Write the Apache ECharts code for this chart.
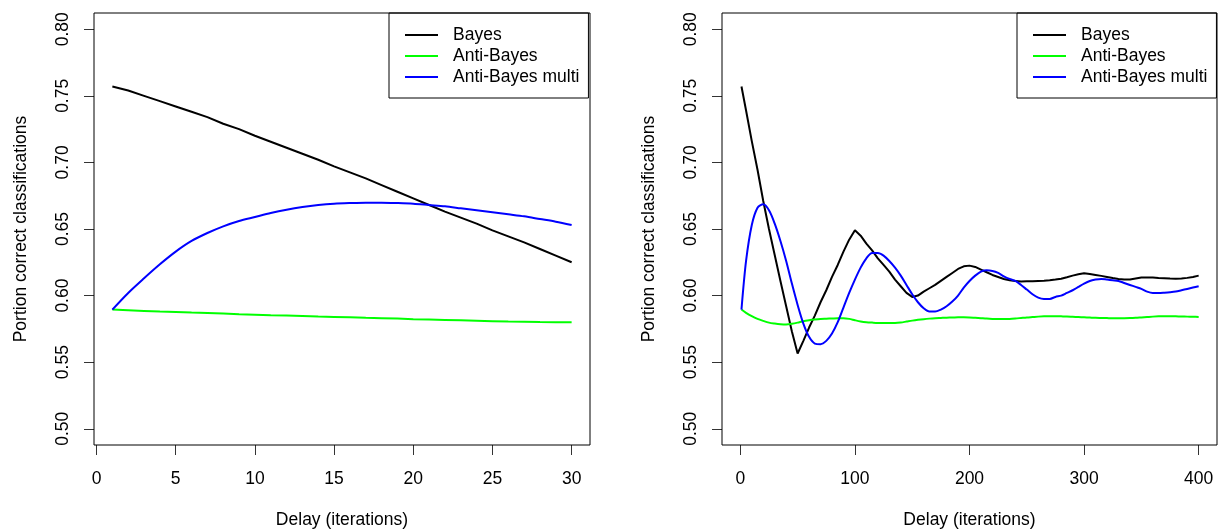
<!DOCTYPE html>
<html>
<head>
<meta charset="utf-8">
<script src="https://cdn.jsdelivr.net/npm/echarts@6/dist/echarts.min.js"></script>
<style>
html,body{margin:0;padding:0;background:#fff;}
#chart{width:1219px;height:531px;}
</style>
</head>
<body>
<div id="chart"></div>
<script>
// ---- Left panel data (delay 1..30) ----
const leftX = [1,2,3,4,5,6,7,8,9,10,11,12,13,14,15,16,17,18,19,20,21,22,23,24,25,26,27,28,29,30];
const leftBayes = [0.757,0.754,0.750,0.746,0.742,0.738,0.734,0.729,0.725,0.720,0.7155,0.711,0.7065,0.702,0.697,0.6925,0.688,0.683,0.678,0.673,0.668,0.663,0.6585,0.654,0.649,0.6445,0.640,0.635,0.630,0.625];
const leftAnti = [0.5895,0.589,0.5885,0.588,0.5877,0.5873,0.587,0.5865,0.586,0.5857,0.5853,0.585,0.5847,0.5843,0.584,0.5837,0.5833,0.583,0.5827,0.5823,0.582,0.5817,0.5814,0.5811,0.5808,0.5805,0.5803,0.5801,0.58,0.5799];
const leftMulti = [0.5895,0.602,0.613,0.6235,0.633,0.641,0.647,0.652,0.656,0.659,0.662,0.6645,0.6665,0.668,0.669,0.6695,0.6698,0.6698,0.6695,0.669,0.668,0.667,0.6655,0.664,0.6625,0.661,0.6595,0.6575,0.6555,0.653];

// ---- Right panel data (delay 1..400) ----
const rightX = [1,5,10,15,20,25,30,35,40,45,50,55,60,65,70,75,80,85,90,95,100,105,110,115,120,125,130,135,140,145,150,155,160,165,170,175,180,185,190,195,200,205,210,215,220,225,230,235,240,245,250,255,260,265,270,275,280,285,290,295,300,305,310,315,320,325,330,335,340,345,350,355,360,365,370,375,380,385,390,395,400];
const rightBayes = [0.757,0.739,0.716,0.6945,0.671,0.650,0.6305,0.611,0.592,0.573,0.5565,0.566,0.576,0.585,0.595,0.604,0.614,0.623,0.633,0.642,0.649,0.645,0.639,0.634,0.628,0.623,0.618,0.612,0.607,0.602,0.599,0.600,0.603,0.6055,0.608,0.611,0.614,0.617,0.620,0.622,0.6225,0.6215,0.6195,0.6175,0.6155,0.614,0.6125,0.6115,0.611,0.6105,0.6107,0.6108,0.611,0.6112,0.6115,0.612,0.6127,0.6138,0.615,0.616,0.6167,0.6162,0.6155,0.6148,0.614,0.6132,0.6125,0.612,0.612,0.6128,0.6135,0.6136,0.6135,0.6132,0.613,0.6128,0.6127,0.6129,0.6133,0.614,0.615];
const rightAnti = [0.5895,0.587,0.5845,0.5825,0.581,0.5797,0.579,0.5785,0.5783,0.5788,0.5797,0.5808,0.5815,0.582,0.5824,0.5826,0.5828,0.583,0.583,0.5825,0.5815,0.5806,0.58,0.5797,0.5795,0.5795,0.5795,0.5795,0.5798,0.5805,0.5812,0.5818,0.5823,0.5827,0.583,0.5832,0.5834,0.5835,0.5837,0.5837,0.5836,0.5833,0.583,0.5827,0.5825,0.5824,0.5824,0.5825,0.5828,0.5832,0.5836,0.5839,0.5842,0.5844,0.5845,0.5845,0.5844,0.5843,0.5841,0.5839,0.5837,0.5835,0.5833,0.5832,0.5831,0.583,0.583,0.583,0.5831,0.5833,0.5836,0.5839,0.5842,0.5844,0.5845,0.5845,0.5844,0.5843,0.5842,0.5841,0.584];
const rightMulti = [0.5895,0.626,0.653,0.666,0.6685,0.664,0.654,0.641,0.626,0.609,0.593,0.579,0.569,0.564,0.5635,0.566,0.5715,0.58,0.591,0.602,0.612,0.621,0.628,0.632,0.632,0.630,0.626,0.621,0.615,0.608,0.601,0.595,0.5905,0.588,0.588,0.5895,0.592,0.5955,0.600,0.606,0.611,0.615,0.618,0.619,0.6185,0.617,0.6145,0.6125,0.611,0.608,0.6045,0.601,0.5985,0.5975,0.5975,0.599,0.600,0.602,0.604,0.6065,0.609,0.611,0.612,0.6125,0.612,0.6115,0.611,0.6095,0.608,0.6065,0.605,0.603,0.602,0.602,0.6022,0.6025,0.603,0.604,0.605,0.606,0.607];

// ---- Tick labels ----
const leftXTicks = [0,5,10,15,20,25,30];
const rightXTicks = [0,100,200,300,400];
const yTicks = [0.50,0.55,0.60,0.65,0.70,0.75,0.80];
const seriesNames = ['Bayes','Anti-Bayes','Anti-Bayes multi'];
const seriesColors = ['#000000','#00ff00','#0000ff'];

const FONT = "'Liberation Sans', Arial, Helvetica, sans-serif";
const FS = 17.5;

function zip(xs, ys){ return xs.map((x,i)=>[x, ys[i]]); }

function xAxis(idx, min, max, ticks){
  return {
    type:'value', gridIndex: idx, min:min, max:max, position:'bottom',
    name:'Delay (iterations)', nameLocation:'middle', nameGap:66,
    nameTextStyle:{fontFamily:FONT,fontSize:FS,color:'#000'},
    axisLine:{show:false, onZero:false},
    splitLine:{show:false},
    axisTick:{show:true, length:10, inside:false, customValues:ticks, lineStyle:{color:'#333',width:1}},
    axisLabel:{show:true, margin:25, customValues:ticks, fontFamily:FONT, fontSize:FS, color:'#000',
      formatter:(v)=>String(v)}
  };
}
function yAxis(idx){
  return {
    type:'value', gridIndex: idx, min:0.4878, max:0.8122, position:'left',
    name:'Portion correct classifications', nameLocation:'middle', nameGap:64, nameRotate:90,
    nameTextStyle:{fontFamily:FONT,fontSize:FS,color:'#000'},
    axisLine:{show:false, onZero:false},
    splitLine:{show:false},
    axisTick:{show:true, length:10, inside:false, customValues:yTicks, lineStyle:{color:'#333',width:1}},
    axisLabel:{show:true, rotate:90, margin:22, customValues:yTicks, fontFamily:FONT, fontSize:FS, color:'#000',
      formatter:(v)=>v.toFixed(2)}
  };
}
function line(name, color, gi, xs, ys, smooth){
  return {
    type:'line', name:name, xAxisIndex:gi, yAxisIndex:gi,
    data: zip(xs, ys), symbol:'none', showSymbol:false, smooth: smooth,
    lineStyle:{color:color, width:2}, itemStyle:{color:color},
    animation:false, z:3
  };
}
function legend(left){
  return {
    show:true, left:left, top:13, orient:'vertical',
    data: seriesNames, icon:'rect',
    backgroundColor:'#fff', borderColor:'#000', borderWidth:1, borderRadius:0,
    padding:[11.5, 9, 10.5, 16],
    itemWidth:33, itemHeight:2, itemGap:0,
    selectedMode:false,
    textStyle:{fontFamily:FONT, fontSize:FS, color:'#000', lineHeight:21, padding:[0,0,0,10]}
  };
}

const chart = echarts.init(document.getElementById('chart'), null, {renderer:'canvas'});
chart.setOption({
  backgroundColor:'#fff',
  animation:false,
  grid:[
    {left:94, top:13, width:496, height:432, show:true, borderColor:'#000', borderWidth:1, backgroundColor:'transparent', z:5, containLabel:false, outerBoundsMode:'none'},
    {left:722, top:13, width:495, height:432, show:true, borderColor:'#000', borderWidth:1, backgroundColor:'transparent', z:5, containLabel:false, outerBoundsMode:'none'}
  ],
  xAxis:[ xAxis(0, -0.16, 31.16, leftXTicks), xAxis(1, -16, 416, rightXTicks) ],
  yAxis:[ yAxis(0), yAxis(1) ],
  legend:[ legend(389), legend(1017) ],
  series:[
    line(seriesNames[0], seriesColors[0], 0, leftX, leftBayes, false),
    line(seriesNames[1], seriesColors[1], 0, leftX, leftAnti, false),
    line(seriesNames[2], seriesColors[2], 0, leftX, leftMulti, 0.3),
    line(seriesNames[0], seriesColors[0], 1, rightX, rightBayes, false),
    line(seriesNames[1], seriesColors[1], 1, rightX, rightAnti, 0.3),
    line(seriesNames[2], seriesColors[2], 1, rightX, rightMulti, 0.3)
  ]
});
</script>
</body>
</html>
